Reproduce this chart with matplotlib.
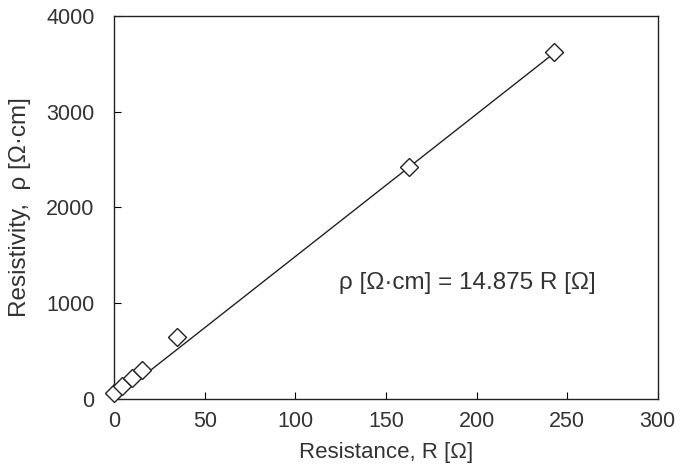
import matplotlib
matplotlib.use("Agg")
import matplotlib.pyplot as plt
import numpy as np

plt.rcParams['font.family'] = ['Liberation Sans', 'DejaVu Sans']

# measured points
resistance = [0.0, 4.5, 10.0, 15.5, 35.0, 163.0, 243.0]
resistivity = [60, 140, 220, 300, 650, 2420, 3620]
slope = 14.875
fit_x = np.array([0.0, 243.0])

txt = "#333333"
fs = 15.5

fig = plt.figure(figsize=(6.83, 4.71), dpi=100)
ax = fig.add_axes([0.167, 0.153, 0.796, 0.813])

ax.plot(fit_x, slope * fit_x, color="#222222", lw=1.0, zorder=2)
ax.plot(resistance, resistivity, ls="none", marker="D", markersize=9.5,
        markerfacecolor="white", markeredgecolor="#222222", markeredgewidth=1.0,
        clip_on=False, zorder=3)

ax.text(195, 1210, "ρ [Ω·cm] = 14.875 R [Ω]", fontsize=17.5, color=txt,
        ha="center", va="center")

ax.set_xlim(0, 300)
ax.set_ylim(0, 4000)
ax.set_xticks([0, 50, 100, 150, 200, 250, 300])
ax.set_yticks([0, 1000, 2000, 3000, 4000])
ax.tick_params(direction="in", length=5, labelsize=fs, labelcolor=txt)
ax.tick_params(axis="y", pad=14)
ax.tick_params(axis="x", pad=9)
for s in ax.spines.values():
    s.set_linewidth(1.0)
    s.set_color("#222222")

ax.set_xlabel("Resistance, R [Ω]", fontsize=16, color=txt, labelpad=7)
ax.set_ylabel("Resistivity,  ρ [Ω·cm]", fontsize=17.5, color=txt, labelpad=11)

fig.savefig("out.png", dpi=100)
